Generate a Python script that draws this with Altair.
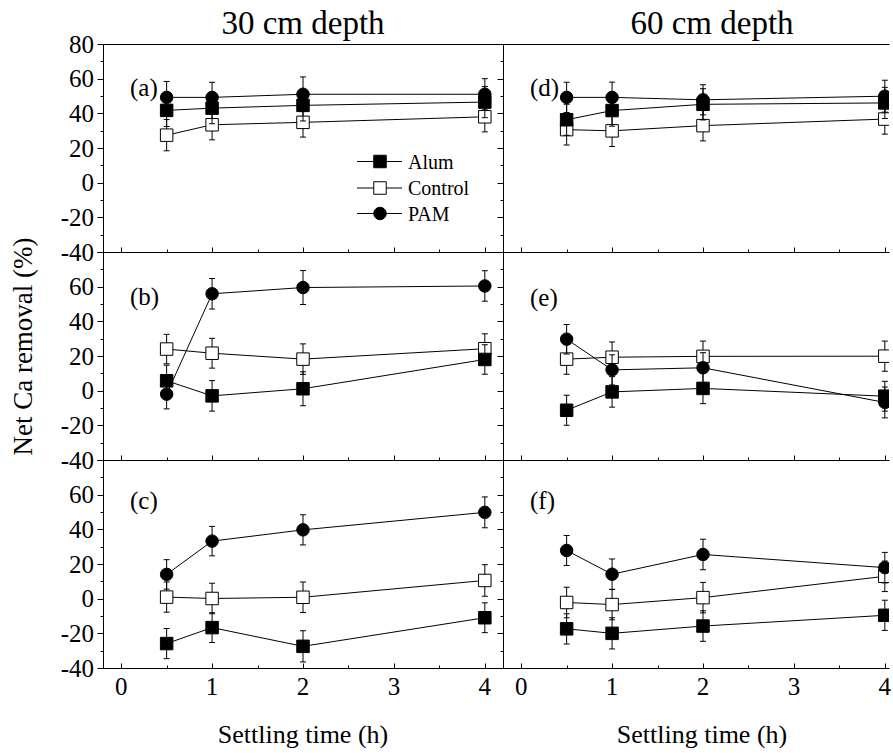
import altair as alt
import pandas as pd

FONT = "Liberation Serif"

times = [0.5, 1, 2, 4]
series_order = ["Control", "Alum", "PAM"]
legend_order = ["Alum", "Control", "PAM"]

# (a) 30 cm
a_alum = [41.7, 43.0, 44.6, 46.5]
a_control = [27.4, 33.4, 34.8, 38.0]
a_pam = [49.2, 49.2, 51.0, 51.0]
a_alum_err = [9.3, 9.0, 9.0, 9.0]
a_control_err = [9.0, 8.7, 8.5, 8.7]
a_pam_err = [9.2, 8.7, 10.0, 9.0]

# (b) 30 cm
b_alum = [5.7, -3.0, 1.1, 18.0]
b_control = [24.0, 21.6, 18.2, 24.2]
b_pam = [-2.0, 55.9, 59.5, 60.4]
b_alum_err = [9.0, 8.8, 9.8, 8.5]
b_control_err = [8.5, 8.6, 8.8, 8.6]
b_pam_err = [8.5, 8.8, 9.8, 8.8]

# (c) 30 cm
c_alum = [-25.9, -16.7, -27.5, -11.0]
c_control = [0.9, 0.1, 0.8, 10.5]
c_pam = [14.0, 33.2, 39.7, 49.8]
c_alum_err = [8.7, 8.6, 9.0, 8.6]
c_control_err = [8.7, 8.8, 8.8, 9.1]
c_pam_err = [8.5, 8.5, 8.7, 8.9]

# (d) 60 cm
d_alum = [36.3, 41.6, 45.2, 46.0]
d_control = [30.6, 29.9, 32.9, 36.7]
d_pam = [49.2, 49.2, 47.8, 49.9]
d_alum_err = [9.0, 9.0, 9.0, 9.0]
d_control_err = [8.8, 9.0, 8.8, 8.7]
d_pam_err = [8.7, 8.8, 8.7, 9.2]

# (e) 60 cm
e_alum = [-11.3, -0.7, 1.3, -3.2]
e_control = [18.2, 19.3, 19.8, 19.9]
e_pam = [29.7, 12.0, 13.2, -6.8]
e_alum_err = [8.7, 8.8, 8.8, 8.6]
e_control_err = [8.7, 8.8, 8.8, 8.7]
e_pam_err = [8.5, 8.7, 8.7, 8.9]

# (f) 60 cm
f_alum = [-17.4, -20.0, -15.8, -9.6]
f_control = [-2.2, -3.4, 0.6, 12.9]
f_pam = [27.8, 14.1, 25.5, 17.9]
f_alum_err = [8.7, 9.0, 8.8, 8.7]
f_control_err = [8.8, 8.8, 8.8, 8.8]
f_pam_err = [8.7, 8.8, 8.8, 8.8]

column_titles = ["30 cm depth", "60 cm depth"]
y_title = "Net Ca removal (%)"
x_title = "Settling time (h)"

y_major = [-40, -20, 0, 20, 40, 60, 80]
y_minor = [-30, -10, 10, 30, 50, 70]
y_labels_top = [80, 60, 40, 20, 0, -20, -40]
y_labels_other = [60, 40, 20, 0, -20, -40]
x_major = [0, 1, 2, 3, 4]
x_minor = [0.5, 1.5, 2.5, 3.5]

STYLE = {
    "Alum": ("square", "black"),
    "Control": ("square", "white"),
    "PAM": ("circle", "black"),
}
MSIZE = 156
PANEL_H = 208
PX_PER_UNIT = 400 / 4.4
LABEL_SIZE = 25


def frame(s_vals, s_errs):
    rows = []
    for s in series_order:
        for t, v, e in zip(times, s_vals[s], s_errs[s]):
            rows.append({"series": s, "t": t, "v": v, "lo": v - e, "hi": v + e})
    return pd.DataFrame(rows)


def marker(chart, s, clip=True):
    shape, fill = STYLE[s]
    if shape == "square":
        return chart.mark_square(size=MSIZE, fill=fill, stroke="black", strokeWidth=1,
                                 opacity=1, clip=clip)
    return chart.mark_circle(size=MSIZE, fill=fill, stroke="black", strokeWidth=1,
                             opacity=1, clip=clip)


def txt(**kw):
    base = dict(font=FONT, color="black")
    base.update(kw)
    return base


def tick_axis(orient, values, size, offset=0):
    kw = dict(orient=orient, values=values, labels=False, ticks=True, tickSize=size,
              domain=False, title=None, tickColor="black", tickWidth=1, grid=False)
    if offset:
        kw["offset"] = offset
    return alt.Axis(**kw)


def panel(vals, errs, label, label_y, row, col, width, xmax,
          title=None, title_x=None, xtitle_x=None, legend=False):
    top = row == 0
    bottom = row == 2
    left = col == 0
    df = frame(vals, errs)
    xs = alt.Scale(domain=[-0.2, xmax], nice=False, zero=False)
    ys = alt.Scale(domain=[-40, 80], nice=False, zero=False)
    X = alt.X("t:Q", scale=xs, axis=None)
    Y = alt.Y("v:Q", scale=ys, axis=None)

    base = alt.Chart(df)
    layers = []
    # frame lines: left axis with outward major ticks, bottom line
    layers.append(base.mark_point(opacity=0, clip=True).encode(
        x=alt.X("t:Q", scale=xs, axis=alt.Axis(
            orient="bottom", values=x_major, labels=False, ticks=False, domain=True,
            title=None, domainColor="black", domainWidth=1, grid=False)),
        y=alt.Y("v:Q", scale=ys, axis=alt.Axis(
            orient="left", values=y_major, labels=False, ticks=True, tickSize=6,
            domain=True, title=None, domainColor="black", domainWidth=1,
            tickColor="black", tickWidth=1, grid=False)),
    ))
    # minor left ticks
    layers.append(base.mark_point(opacity=0, clip=True).encode(
        x=X, y=alt.Y("v:Q", scale=ys, axis=tick_axis("left", y_minor, 3))))
    # inward bottom ticks (major and minor)
    layers.append(base.mark_point(opacity=0, clip=True).encode(
        x=alt.X("t:Q", scale=xs, axis=tick_axis("bottom", x_major, 5, -5)), y=Y))
    layers.append(base.mark_point(opacity=0, clip=True).encode(
        x=alt.X("t:Q", scale=xs, axis=tick_axis("bottom", x_minor, 3, -3)), y=Y))
    if top:
        layers.append(base.mark_point(opacity=0, clip=True).encode(
            x=alt.X("t:Q", scale=xs, axis=alt.Axis(
                orient="top", labels=False, ticks=False, domain=True, title=None,
                domainColor="black", domainWidth=1, grid=False)),
            y=Y,
        ))

    # tick labels through the panel scales
    if left:
        yl = y_labels_top if top else y_labels_other
        ydf = pd.DataFrame({"val": yl, "lab": [str(v) for v in yl]})
        layers.append(alt.Chart(ydf).mark_text(
            **txt(align="right", baseline="alphabetic", fontSize=LABEL_SIZE, dy=8.5)
        ).encode(text="lab:N", x=alt.value(-9),
                 y=alt.Y("val:Q", scale=ys, axis=None)))
    if bottom:
        xdf = pd.DataFrame({"val": x_major, "lab": [str(v) for v in x_major]})
        layers.append(alt.Chart(xdf).mark_text(
            **txt(align="center", baseline="alphabetic", fontSize=LABEL_SIZE)
        ).encode(text="lab:N", x=alt.X("val:Q", scale=xs, axis=None),
                 y=alt.value(PANEL_H + 27)))
        tdf = pd.DataFrame({"t": [x_title]})
        layers.append(alt.Chart(tdf).mark_text(
            **txt(align="center", baseline="alphabetic", fontSize=26)
        ).encode(text="t:N", x=alt.value(xtitle_x if xtitle_x is not None else width / 2),
                 y=alt.value(PANEL_H + 75)))
    if left and row == 1:
        ytdf = pd.DataFrame({"t": [y_title]})
        layers.append(alt.Chart(ytdf).mark_text(
            **txt(align="center", baseline="middle", fontSize=27, angle=270)
        ).encode(text="t:N", x=alt.value(-79), y=alt.value(94.5)))

    for s in series_order:
        sb = base.transform_filter(alt.datum.series == s)
        layers.append(sb.mark_line(color="black", strokeWidth=1, clip=True).encode(x=X, y=Y))
        layers.append(sb.mark_rule(color="black", strokeWidth=1, clip=True).encode(
            x=X, y=alt.Y("lo:Q", scale=ys, axis=None), y2="hi:Q"))
        for fld in ["lo", "hi"]:
            layers.append(sb.mark_tick(orient="horizontal", size=6, thickness=1,
                                       color="black", opacity=1, clip=True).encode(
                x=X, y=alt.Y(f"{fld}:Q", scale=ys, axis=None)))
        layers.append(marker(sb, s).encode(x=X, y=Y))

    lab_df = pd.DataFrame({"label": [label]})
    layers.append(alt.Chart(lab_df).mark_text(
        **txt(align="left", baseline="middle", fontSize=25)
    ).encode(text="label:N", x=alt.value(27), y=alt.value(label_y)))

    if title:
        tdf = pd.DataFrame({"title": [title]})
        layers.append(alt.Chart(tdf).mark_text(
            **txt(align="center", baseline="alphabetic", fontSize=33)
        ).encode(text="title:N", x=alt.value(title_x), y=alt.value(-10)))

    if legend:
        leg_y = {"Alum": 117.5, "Control": 144, "PAM": 169.5}
        for s in legend_order:
            ldf = pd.DataFrame({"series": [s]})
            lc = alt.Chart(ldf)
            layers.append(lc.mark_rule(color="black", strokeWidth=1).encode(
                x=alt.value(254), x2=alt.value(299), y=alt.value(leg_y[s])))
            layers.append(marker(lc, s, clip=False).encode(
                x=alt.value(277), y=alt.value(leg_y[s])))
            layers.append(lc.mark_text(**txt(align="left", baseline="middle",
                                             fontSize=20)).encode(
                text="series:N", x=alt.value(305), y=alt.value(leg_y[s] + 1)))

    ch = alt.layer(*layers).resolve_axis(x="independent", y="independent")
    return ch.properties(width=width, height=PANEL_H)


def vals_of(al, co, pa):
    return {"Alum": al, "Control": co, "PAM": pa}


RW = 386
RX = -0.2 + RW / PX_PER_UNIT

pa = panel(vals_of(a_alum, a_control, a_pam), vals_of(a_alum_err, a_control_err, a_pam_err),
           "(a)", 44, 0, 0, 400, 4.2, title=column_titles[0], title_x=200, legend=True)
pd_ = panel(vals_of(d_alum, d_control, d_pam), vals_of(d_alum_err, d_control_err, d_pam_err),
            "(d)", 44, 0, 1, RW, RX, title=column_titles[1], title_x=209)
pb = panel(vals_of(b_alum, b_control, b_pam), vals_of(b_alum_err, b_control_err, b_pam_err),
           "(b)", 45, 1, 0, 400, 4.2)
pe = panel(vals_of(e_alum, e_control, e_pam), vals_of(e_alum_err, e_control_err, e_pam_err),
           "(e)", 46, 1, 1, RW, RX)
pc = panel(vals_of(c_alum, c_control, c_pam), vals_of(c_alum_err, c_control_err, c_pam_err),
           "(c)", 41, 2, 0, 400, 4.2)
pf = panel(vals_of(f_alum, f_control, f_pam), vals_of(f_alum_err, f_control_err, f_pam_err),
           "(f)", 41, 2, 1, RW, RX, xtitle_x=199)

chart = alt.concat(pa, pd_, pb, pe, pc, pf, columns=2, spacing=0, bounds="flush").resolve_scale(
    x="independent", y="independent"
).configure(
    font=FONT
).configure_view(stroke=None).configure_axis(
    domainColor="black", domainWidth=1, tickColor="black", tickWidth=1, grid=False,
).properties(
    padding={"left": 10, "top": 8, "right": 0, "bottom": 0},
    background="white",
)

chart.save("out.html", embed_options={"renderer": "svg", "actions": False})
